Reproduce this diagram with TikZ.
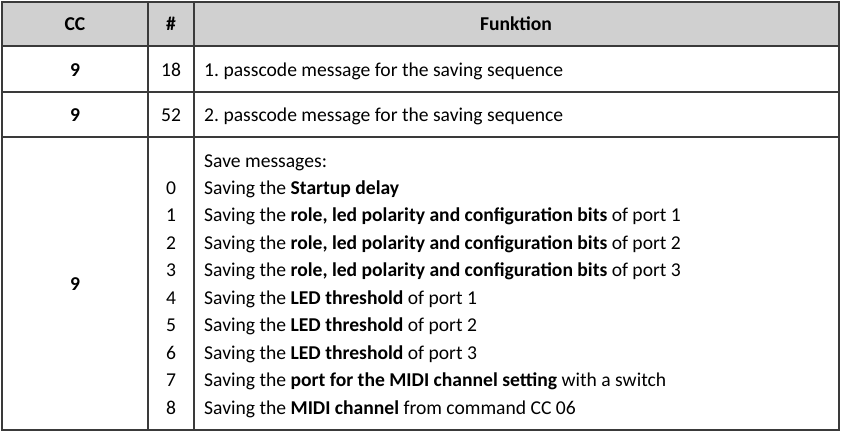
\documentclass[tikz,border=0pt]{standalone}
\usepackage{fontspec}
\setmainfont{Carlito}
\frenchspacing
\definecolor{rulegray}{HTML}{3A3A3A}
\definecolor{headgray}{HTML}{D0D0D0}
\begin{document}
\begin{tikzpicture}[
        x=1pt,y=-1pt,
        font=\fontsize{19.6}{23}\selectfont,
        rule/.style={draw=rulegray,line width=1.5pt},
        ctr/.style={inner sep=0pt,anchor=base},
        txt/.style={inner sep=0pt,anchor=base west},
        bld/.style={ctr,font=\fontsize{19.6}{23}\selectfont\bfseries},
        ]
    \useasboundingbox (0,0) rectangle (841,432);
    % header background
    \fill[headgray] (2,2) rectangle (839,46);
    % grid
    \draw[rule] (2,2) rectangle (839,430);
    \draw[rule] (2,46) -- (839,46);
    \draw[rule] (2,92) -- (839,92);
    \draw[rule] (2,137) -- (839,137);
    \draw[rule] (148,2) -- (148,430);
    \draw[rule] (194,2) -- (194,430);
    % header
    \node[bld] (cchead) at (75,30) {CC};
    \node[bld] (numhead) at (171,30) {\#};
    \node[bld] (fnhead) at (516,30) {Funktion};
    % passcode rows
    \node[bld] (cca) at (75,76) {9};
    \node[ctr] (numa) at (171,76) {18};
    \node[txt] (fna) at (204,76) {1. passcode message for the saving sequence};
    \node[bld] (ccb) at (75,121) {9};
    \node[ctr] (numb) at (171,121) {52};
    \node[txt] (fnb) at (204,121) {2. passcode message for the saving sequence};
    % save messages
    \node[bld] (ccc) at (75,290) {9};
    \node[txt] (savehead) at (204,167) {Save messages:};
    \foreach \n/\t in {
        0/{Saving the \textbf{Startup delay}},
        1/{Saving the \textbf{role, led polarity and configuration bits} of port 1},
        2/{Saving the \textbf{role, led polarity and configuration bits} of port 2},
        3/{Saving the \textbf{role, led polarity and configuration bits} of port 3},
        4/{Saving the \textbf{LED threshold} of port 1},
        5/{Saving the \textbf{LED threshold} of port 2},
        6/{Saving the \textbf{LED threshold} of port 3},
        7/{Saving the \textbf{port for the MIDI channel setting} with a switch},
        8/{Saving the \textbf{MIDI channel} from command CC 06}}
    {
        \node[ctr] (num\n) at (171,194.4+27.45*\n) {\n};
        \node[txt] (fn\n) at (204,194.4+27.45*\n) {\t};
    }
\end{tikzpicture}
\end{document}
